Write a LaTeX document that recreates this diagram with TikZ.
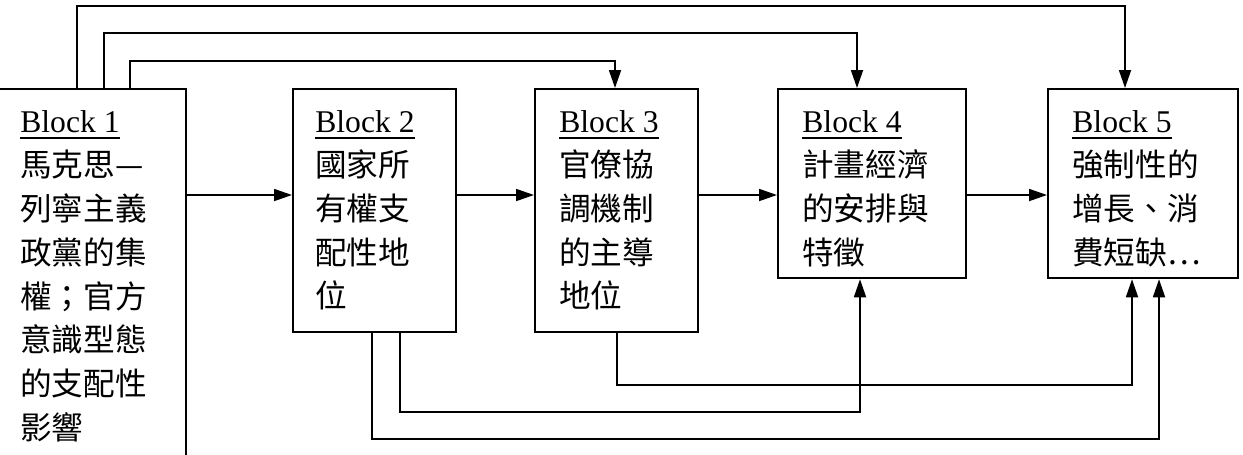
\documentclass[tikz,border=0pt]{standalone}
\usepackage{fontspec}
\setmainfont{Liberation Serif}
\newfontfamily\cjk{Noto Sans CJK TC}
\usetikzlibrary{arrows.meta,positioning,calc}
\newcommand{\blocktitle}[1]{\setbox0\hbox{\rmfamily #1}\rlap{\rule[-3.6pt]{\wd0}{1pt}}\box0}

\begin{document}
\begin{tikzpicture}[
    x=0.02cm,y=-0.02cm,
    >={Triangle[length=0.36cm,width=0.24cm]},
    block/.style={rectangle,draw=black,line width=1.3pt,anchor=north west,inner sep=0pt},
    txt/.style={anchor=north west,inner sep=0pt,align=left,
                font=\fontsize{18}{25}\selectfont\cjk},
    arr/.style={->,line width=1pt}
  ]
  \useasboundingbox (0,0) rectangle (1243,454);
  \clip (0,0) rectangle (1243,454);
  % the five blocks
  \node[block,minimum width=3.8cm,minimum height=7.7cm]  (b1) at (-5,88)  {};
  \node[block,minimum width=3.26cm,minimum height=4.86cm] (b2) at (292,88) {};
  \node[block,minimum width=3.26cm,minimum height=4.86cm] (b3) at (534,88) {};
  \node[block,minimum width=3.76cm,minimum height=3.78cm] (b4) at (777,88) {};
  \node[block,minimum width=3.8cm,minimum height=3.78cm]  (b5) at (1047,88) {};
  \node[txt] (t1) at ($(b1.north west)+(25,22)$)
        {\blocktitle{Block 1}\\馬克思—\\列寧主義\\政黨的集\\權；官方\\意識型態\\的支配性\\影響};
  \node[txt] (t2) at ($(b2.north west)+(23,22)$)
        {\blocktitle{Block 2}\\國家所\\有權支\\配性地\\位};
  \node[txt] (t3) at ($(b3.north west)+(25,22)$)
        {\blocktitle{Block 3}\\官僚協\\調機制\\的主導\\地位};
  \node[txt] (t4) at ($(b4.north west)+(25,22)$)
        {\blocktitle{Block 4}\\計畫經濟\\的安排與\\特徵};
  \node[txt] (t5) at ($(b5.north west)+(25,22)$)
        {\blocktitle{Block 5}\\強制性的\\增長、消\\費短缺…};
  % chain of arrows
  \coordinate (mid) at (0,195);
  \draw[arr] (b1.east |- mid) -- (b2.west |- mid);
  \draw[arr] (b2.east |- mid) -- (b3.west |- mid);
  \draw[arr] (b3.east |- mid) -- (b4.west |- mid);
  \draw[arr] (b4.east |- mid) -- (b5.west |- mid);
  % lanes above
  \coordinate (laneA) at (77,6);
  \coordinate (laneB) at (104,33);
  \coordinate (laneC) at (130,61);
  \draw[arr] (b1.north -| laneA) -- (laneA) -| ($(b5.north west)+(78,0)$);
  \draw[arr] (b1.north -| laneB) -- (laneB) -| ($(b4.north west)+(80,0)$);
  \draw[arr] (b1.north -| laneC) -- (laneC) -| ($(b3.north west)+(81,0)$);
  % lanes below
  \coordinate (laneD) at (372,439);
  \coordinate (laneE) at (400,412);
  \coordinate (laneF) at (617,385);
  \draw[arr] (b2.south -| laneD) -- (laneD) -| ($(b5.south west)+(112,0)$);
  \draw[arr] (b2.south -| laneE) -- (laneE) -| ($(b4.south west)+(83,0)$);
  \draw[arr] (b3.south -| laneF) -- (laneF) -| ($(b5.south west)+(85,0)$);
\end{tikzpicture}
\end{document}
